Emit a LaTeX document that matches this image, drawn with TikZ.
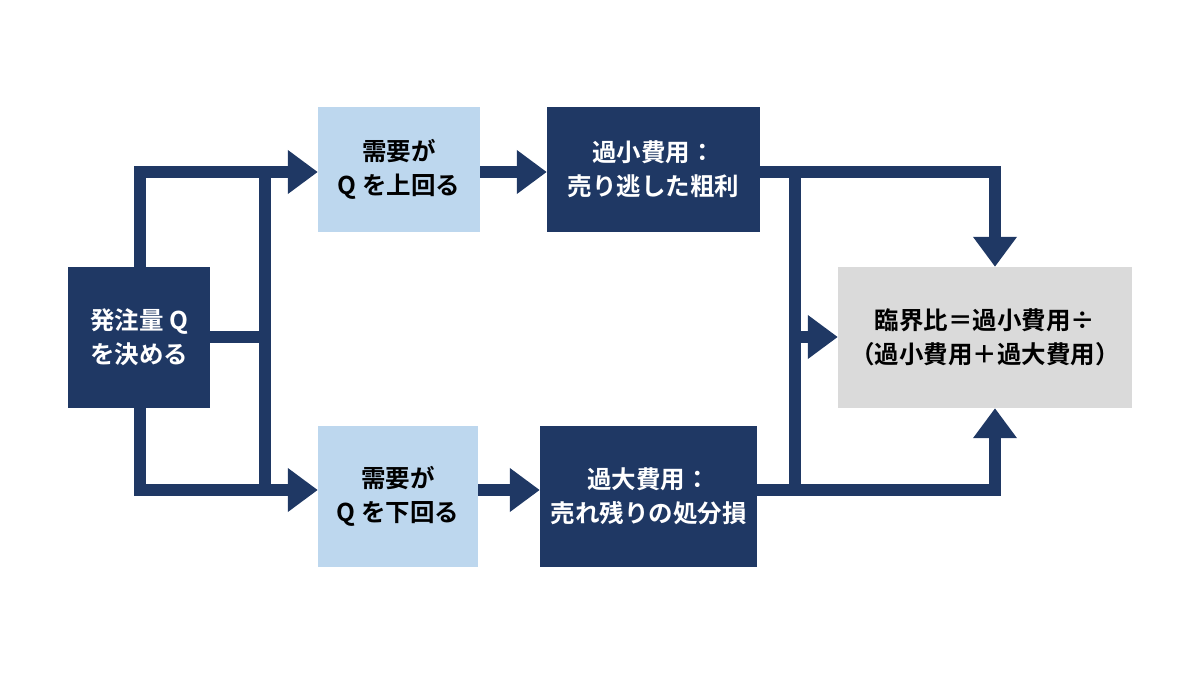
\documentclass[tikz,border=0pt]{standalone}
\usepackage{fontspec}
\newfontfamily\cjk{Noto Sans CJK JP}[BoldFont={* Bold}]
\usetikzlibrary{arrows.meta}
\definecolor{navy}{HTML}{1F3864}
\definecolor{lblue}{HTML}{BDD7EE}
\definecolor{lgray}{HTML}{DADADA}
\begin{document}
\begin{tikzpicture}[x=1pt,y=-1pt,
  box/.style={draw=none,minimum width=#1,align=center,inner sep=0pt,font=\cjk\bfseries\fontsize{24.5}{34}\selectfont},
  dark/.style={fill=navy,text=white},
  light/.style={fill=lblue,text=black},
  grey/.style={fill=lgray,text=black},
  ln/.style={draw=navy,line width=12pt},
  arr/.style={ln,-{Triangle[length=30pt,width=42pt]}}]
\useasboundingbox (0,0) rectangle (1200,675);
\node[box=142pt,minimum height=141pt,dark] (q) at (139,337.5) {発注量 Q\\を決める};
\node[box=162pt,minimum height=125pt,light] (u1) at (399,169.5) {需要が\\Q を上回る};
\node[box=213pt,minimum height=125pt,dark] (c1) at (653.5,169.5) {過小費用：\\売り逃した粗利};
\node[box=160pt,minimum height=141pt,light] (u2) at (398,496.5) {需要が\\Q を下回る};
\node[box=217pt,minimum height=141pt,dark] (c2) at (648.5,496.5) {過大費用：\\売れ残りの処分損};
\node[box=294pt,minimum height=141pt,grey] (r) at (985,337.5) {臨界比＝過小費用÷\\（過小費用＋過大費用）};
\coordinate (a1) at (140,172);
\coordinate (a2) at (140,490);
\coordinate (j1) at (265,172);
\coordinate (j2) at (265,490);
\coordinate (j3) at (265,337);
\coordinate (k1) at (795,172);
\coordinate (k2) at (795,490);
\coordinate (k3) at (795,337);
\coordinate (e1) at (995,172);
\coordinate (e2) at (995,490);
% left side
\draw[ln] (q.north -| a1) -- (a1) -- (j1);
\draw[ln] (q.south -| a2) -- (a2) -- (j2);
\draw[ln] (j1) -- (j2);
\draw[ln] (q.east |- j3) -- (j3);
\draw[arr] (j1) -- (u1.west |- j1);
\draw[arr] (j2) -- (u2.west |- j2);
% middle
\draw[arr] (u1.east |- j1) -- (c1.west |- j1);
\draw[arr] (u2.east |- j2) -- (c2.west |- j2);
% right side
\draw[ln] (c1.east |- k1) -- (k1);
\draw[ln] (c2.east |- k2) -- (k2);
\draw[ln] (k1) -- (k2);
\draw[arr] (k3) -- (r.west |- k3);
\draw[arr] (k1) -- (e1) -- (r.north -| e1);
\draw[arr] (k2) -- (e2) -- (r.south -| e2);
\end{tikzpicture}
\end{document}
